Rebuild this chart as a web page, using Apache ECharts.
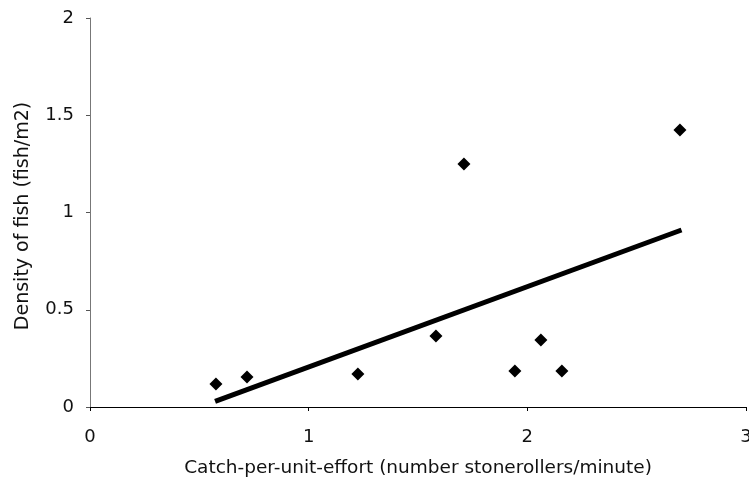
<!DOCTYPE html>
<html>
<head>
<meta charset="utf-8">
<script src="https://cdn.jsdelivr.net/npm/echarts@6/dist/echarts.min.js"></script>
<style>
html,body{margin:0;padding:0;background:#fff;}
#chart{width:749px;height:489px;}
</style>
</head>
<body>
<div id="chart"></div>
<script>
var catchX = [0.576, 0.718, 1.225, 1.582, 1.71, 1.943, 2.062, 2.158, 2.698];
var densityY = [0.118, 0.154, 0.17, 0.365, 1.249, 0.185, 0.344, 0.185, 1.424];
var trendX = [0.572, 2.705];
var trendY = [0.029, 0.91];
var xTicks = [0, 1, 2, 3];
var yTicks = [0, 0.5, 1, 1.5, 2];

var pts = catchX.map(function (x, i) { return [x, densityY[i]]; });
var trend = trendX.map(function (x, i) { return [x, trendY[i]]; });

var chart = echarts.init(document.getElementById('chart'), null, {renderer: 'canvas'});
chart.setOption({
  animation: false,
  backgroundColor: '#ffffff',
  grid: {left: 90, right: 3, top: 18, bottom: 82, containLabel: false, outerBoundsMode: 'none'},
  xAxis: {
    type: 'value', min: 0, max: 3, interval: 1,
    name: 'Catch-per-unit-effort (number stonerollers/minute)',
    nameLocation: 'middle', nameGap: 52,
    nameTextStyle: {fontFamily: 'DejaVu Sans', fontSize: 18.5, color: '#111'},
    axisLine: {lineStyle: {color: '#000', width: 1}},
    axisTick: {show: true, length: 4, lineStyle: {color: '#000'}},
    axisLabel: {fontFamily: 'DejaVu Sans', fontSize: 18, color: '#111', margin: 21,
      formatter: function (v) { return xTicks.indexOf(v) >= 0 ? String(v) : ''; }},
    splitLine: {show: false}
  },
  yAxis: {
    type: 'value', min: 0, max: 2, interval: 0.5,
    name: 'Density of fish (fish/m2)',
    nameLocation: 'middle', nameGap: 57,
    nameTextStyle: {fontFamily: 'DejaVu Sans', fontSize: 19, color: '#111', padding: [0, 7, 0, 0]},
    axisLine: {show: true, lineStyle: {color: '#777', width: 1}},
    axisTick: {show: true, length: 4, lineStyle: {color: '#555'}},
    axisLabel: {fontFamily: 'DejaVu Sans', fontSize: 18, color: '#111', margin: 16,
      formatter: function (v) { return yTicks.indexOf(v) >= 0 ? String(v) : ''; }},
    splitLine: {show: false}
  },
  series: [
    {
      type: 'line', data: trend, symbol: 'none',
      lineStyle: {color: '#000', width: 5, cap: 'butt'}, z: 2
    },
    {
      type: 'scatter', data: pts, symbol: 'diamond', symbolSize: 13,
      itemStyle: {color: '#000', opacity: 1}, z: 3
    }
  ]
});
</script>
</body>
</html>
